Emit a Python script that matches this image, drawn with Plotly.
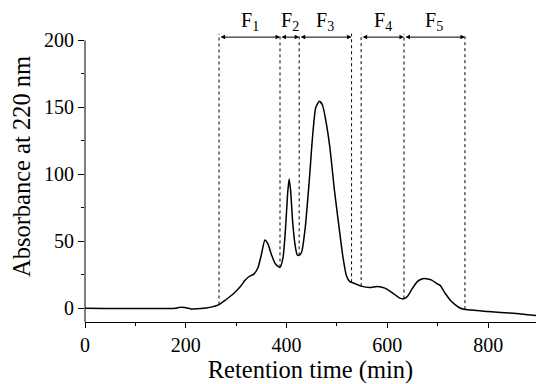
import numpy as np
import plotly.graph_objects as go

# Chromatogram trace (retention time in min, absorbance at 220 nm)
time = [0, 180, 190, 198, 210, 230, 250, 265, 280, 295, 308, 318, 325, 335, 343, 350,
        357, 363, 370, 378, 387, 393, 398, 402, 405, 408, 412, 417, 421, 425, 430, 437,
        445, 452, 458, 465, 471, 478, 486, 495, 505, 512, 519, 525, 535, 548, 565, 580,
        595, 610, 625, 632, 640, 650, 660, 670, 677, 688, 700, 705, 715, 725, 735, 745,
        760, 800, 850, 895]
absorb = [0, 0, 0.8, 0.5, -0.5, -0.3, 0.8, 2.5, 6.5, 11, 16, 21, 23.5, 25.5, 30, 40,
          51, 48, 40, 33, 30.5, 38, 60, 85, 96.5, 88, 65, 47, 40, 39.5, 42, 60,
          95, 130, 150, 154.5, 152, 140, 120, 88, 58, 38, 24, 20, 18.5, 16.5, 15.5, 16.3,
          15, 11.5, 7.5, 7, 9, 15, 20, 22, 22, 21, 18, 17, 11, 6, 2.5, 0,
          -1.2, -2.5, -3.8, -5.5]

# Fraction cut points
cuts = [266, 387, 425, 529, 548, 633, 754]
fractions = ["F<sub>1</sub>", "F<sub>2</sub>", "F<sub>3</sub>", "F<sub>4</sub>", "F<sub>5</sub>"]
frac_start = [266, 387, 425, 548, 633]
frac_end = [387, 425, 529, 633, 754]

arrow_y = 202.5
line_top = 205
label_y = 214

FONT = "Liberation Serif"

fig = go.Figure()
fig.add_trace(go.Scatter(x=time, y=absorb, mode="lines", line=dict(color="black", width=1.5, shape="spline", smoothing=0.6),
                         showlegend=False, hoverinfo="skip"))

for c in cuts:
    yb = float(np.interp(c, time, absorb))
    fig.add_trace(go.Scatter(x=[c, c], y=[yb, line_top], mode="lines",
                             line=dict(color="black", width=1, dash="dot"), showlegend=False, hoverinfo="skip"))

for name, s, e in zip(fractions, frac_start, frac_end):
    fig.add_annotation(x=e, y=arrow_y, ax=s, ay=arrow_y, xref="x", yref="y", axref="x", ayref="y",
                       text="", showarrow=True, arrowhead=2, arrowside="end+start", arrowsize=0.9,
                       arrowwidth=1, arrowcolor="black", standoff=0, startstandoff=0)
    fig.add_annotation(x=(s + e) / 2, y=label_y, xref="x", yref="y", text=name, showarrow=False,
                       font=dict(family=FONT, size=20, color="black"), yanchor="middle")

y_lo, y_hi = -10.3, 222
# visible y-axis line only up to 200
fig.add_shape(type="line", xref="paper", yref="paper", x0=0, x1=0,
              y0=0, y1=(200 - y_lo) / (y_hi - y_lo), line=dict(color="black", width=1))

fig.update_layout(
    width=536, height=384,
    margin=dict(l=85, r=0, t=10.5, b=62.3),
    paper_bgcolor="white", plot_bgcolor="white",
    font=dict(family=FONT, size=20, color="black"),
    showlegend=False,
)
fig.update_xaxes(range=[0, 895], tickvals=[0, 200, 400, 600, 800], ticks="outside", ticklen=5,
                 tickwidth=1, tickcolor="black", showline=True, linecolor="black", linewidth=1,
                 showgrid=False, zeroline=False,
                 minor=dict(tickvals=[100, 300, 500, 700], ticks="outside", ticklen=3, tickcolor="black"),
                 title=dict(text="Retention time (min)", font=dict(family=FONT, size=24.5), standoff=6),
                 tickfont=dict(family=FONT, size=20))
fig.update_yaxes(range=[y_lo, y_hi], tickvals=[0, 50, 100, 150, 200], ticks="outside", ticklen=6,
                 tickwidth=1, tickcolor="black", showline=False,
                 showgrid=False, zeroline=False,
                 minor=dict(tickvals=[25, 75, 125, 175], ticks="outside", ticklen=3, tickcolor="black"),
                 title=dict(text="Absorbance at 220 nm", font=dict(family=FONT, size=24.5), standoff=6),
                 tickfont=dict(family=FONT, size=20))

fig.write_html("out.html")
